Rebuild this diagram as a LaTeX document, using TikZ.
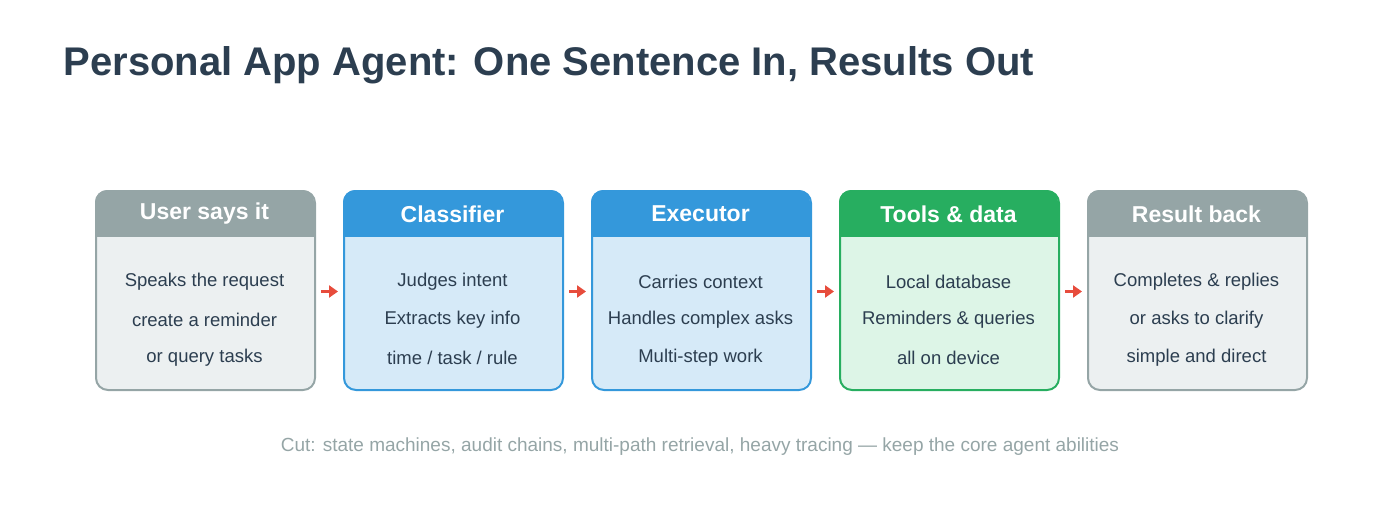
\documentclass[tikz,border=0pt]{standalone}
\usepackage{fontspec}
\setmainfont{Liberation Sans}
\usetikzlibrary{arrows.meta}
\definecolor{ink}{HTML}{2C3E50}
\definecolor{grayh}{HTML}{95A5A6}
\definecolor{grayb}{HTML}{ECF0F1}
\definecolor{blueh}{HTML}{3498DB}
\definecolor{blueb}{HTML}{D6EAF8}
\definecolor{greenh}{HTML}{27AE60}
\definecolor{greenb}{HTML}{DDF5E7}
\definecolor{arr}{HTML}{E74C3C}
\tikzset{
  hdr/.style={text=white,font=\bfseries\fontsize{23}{26}\selectfont,anchor=center},
  ln/.style={text=ink,font=\fontsize{18.5}{22}\selectfont,anchor=center},
  flow/.style={draw=arr,line width=3pt,-{Triangle[length=9pt,width=12pt]}},
}
\newcommand{\stagebox}[8]{%
  % #1 name, #2 left x, #3 head col, #4 body col, #5 title, #6-8 lines
  \fill[#4,rounded corners=12pt] (#2,190) rectangle ++(219,199);
  \begin{scope}
    \clip[rounded corners=12pt] (#2,190) rectangle ++(219,199);
    \fill[#3] (#2,190) rectangle ++(219,47);
  \end{scope}
  \node[draw=#3,line width=2pt,rounded corners=12pt,minimum width=219pt,minimum height=199pt,inner sep=0pt,anchor=north west] (#1) at (#2,190) {};
  \node[hdr] (#1h) at ($(#2,214)+(109.5,0)$) {#5};
  \node[ln] (#1a) at ($(#2,282)+(109.5,0)$) {#6};
  \node[ln] (#1b) at ($(#2,320)+(109.5,0)$) {#7};
  \node[ln] (#1c) at ($(#2,358)+(109.5,0)$) {#8};
}
\usetikzlibrary{calc}
\begin{document}
\begin{tikzpicture}[x=1pt,y=-1pt]
\useasboundingbox (0,0) rectangle (1400,525);
\node[anchor=west,text=ink,font=\bfseries\fontsize{40}{46}\selectfont] (title) at (60,65) {Personal App Agent: One Sentence In, Results Out};
\stagebox{u}{95}{grayh}{grayb}{User says it}{Speaks the request}{create a reminder}{or query tasks}
\stagebox{c}{343}{blueh}{blueb}{Classifier}{Judges intent}{Extracts key info}{time / task / rule}
\stagebox{e}{591}{blueh}{blueb}{Executor}{Carries context}{Handles complex asks}{Multi-step work}
\stagebox{t}{839}{greenh}{greenb}{Tools \& data}{Local database}{Reminders \& queries}{all on device}
\stagebox{r}{1087}{grayh}{grayb}{Result back}{Completes \& replies}{or asks to clarify}{simple and direct}
\foreach \a/\b in {u/c,c/e,e/t,t/r}{
  \draw[flow] ([xshift=5pt,yshift=-1pt]\a.east) -- ([xshift=-5pt,yshift=-1pt]\b.west);
}
\node[text=grayh,font=\fontsize{19}{22}\selectfont] (foot) at (700,447) {Cut: state machines, audit chains, multi-path retrieval, heavy tracing — keep the core agent abilities};
\end{tikzpicture}
\end{document}
